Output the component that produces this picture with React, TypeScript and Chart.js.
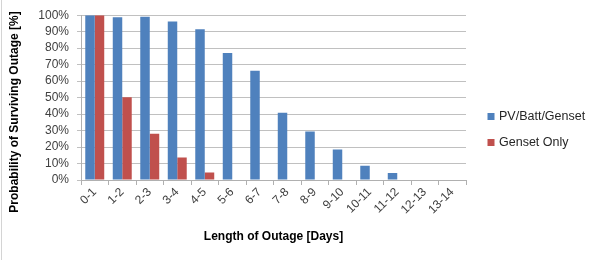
import React, { useEffect, useRef } from 'react';
import { Chart, registerables } from 'chart.js';

Chart.register(...registerables);

const categories = ['0-1', '1-2', '2-3', '3-4', '4-5', '5-6', '6-7', '7-8', '8-9', '9-10', '10-11', '11-12', '12-13', '13-14'];
const pvBattGenset = [100, 98.8, 99, 96.2, 91.4, 77.1, 66.3, 40.8, 29.5, 18.5, 8.6, 4.2, 0, 0];
const gensetOnly = [100, 50.2, 28.1, 13.7, 4.6, 0, 0, 0, 0, 0, 0, 0, 0, 0];
const seriesLabels = ['PV/Batt/Genset', 'Genset Only'];
const seriesColors = ['#4f81bd', '#c0504d'];
const yTickStep = 10;
const yMax = 100;
const yAxisTitle = 'Probability of Surviving Outage [%]';
const xAxisTitle = 'Length of Outage [Days]';

const FONT = '"Liberation Sans", Arial, sans-serif';

const decorations = {
  id: 'decorations',
  afterDraw(chart: any) {
    const ctx = chart.ctx;
    const area = chart.chartArea;
    ctx.save();
    // left frame line
    ctx.strokeStyle = '#d4d4d4';
    ctx.lineWidth = 1;
    ctx.beginPath();
    ctx.moveTo(1.5, 0);
    ctx.lineTo(1.5, chart.height);
    ctx.stroke();

    // y title
    ctx.fillStyle = '#000000';
    ctx.font = `bold 12px ${FONT}`;
    ctx.textAlign = 'center';
    ctx.textBaseline = 'middle';
    ctx.save();
    ctx.translate(15, 112);
    ctx.rotate(-Math.PI / 2);
    ctx.fillText(yAxisTitle, 0, 0);
    ctx.restore();

    // x title
    ctx.fillText(xAxisTitle, (area.left + area.right) / 2, 237);

    // legend
    ctx.font = `12.5px ${FONT}`;
    ctx.textAlign = 'left';
    chart.data.datasets.forEach((ds: any, i: number) => {
      const y = 116.5 + i * 26;
      ctx.fillStyle = ds.backgroundColor;
      ctx.fillRect(487.5, y - 3.5, 7, 7);
      ctx.fillStyle = '#262626';
      ctx.fillText(ds.label, 499, y + 0.5);
    });
    ctx.restore();
  },
};

export default function App() {
  const ref = useRef<HTMLCanvasElement | null>(null);
  useEffect(() => {
    document.body.style.margin = '0';
    const canvas = ref.current;
    if (!canvas) return;
    const chart = new Chart(canvas, {
      type: 'bar',
      data: {
        labels: categories,
        datasets: [
          { label: seriesLabels[0], data: pvBattGenset, backgroundColor: seriesColors[0], categoryPercentage: 0.69, barPercentage: 1 },
          { label: seriesLabels[1], data: gensetOnly, backgroundColor: seriesColors[1], categoryPercentage: 0.69, barPercentage: 1 },
        ],
      },
      options: {
        animation: false,
        responsive: false,
        devicePixelRatio: 1,
        layout: { padding: { top: 14, right: 134, left: 0, bottom: 0 } },
        plugins: { legend: { display: false }, tooltip: { enabled: false } },
        scales: {
          x: {
            afterFit: (s: any) => { s.height = 80; },
            grid: { offset: true, drawOnChartArea: false, drawTicks: true, tickLength: 5, color: '#b0b0b0' },
            border: { color: '#b0b0b0' },
            ticks: { minRotation: 45, maxRotation: 45, padding: 0, color: '#404040', font: { family: FONT, size: 12 }, autoSkip: false },
          },
          y: {
            min: 0,
            max: yMax,
            afterFit: (s: any) => { s.width = 81; },
            grid: { color: '#c0c0c0', tickLength: 4 },
            border: { color: '#b0b0b0' },
            ticks: { stepSize: yTickStep, autoSkip: false, padding: 8, color: '#404040', font: { family: FONT, size: 12 }, callback: (v: any) => v + '%' },
          },
        },
      },
      plugins: [decorations],
    });
    return () => chart.destroy();
  }, []);
  return (
    <div style={{ width: 600, height: 260, background: '#ffffff' }}>
      <canvas ref={ref} width={600} height={260} style={{ display: 'block' }} />
    </div>
  );
}
